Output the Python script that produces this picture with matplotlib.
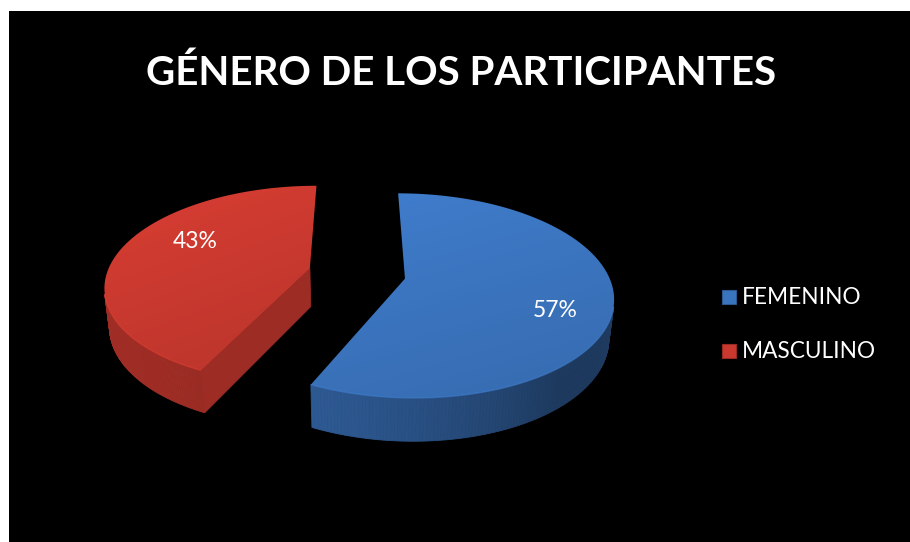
import numpy as np
import matplotlib
matplotlib.use("Agg")
import matplotlib.pyplot as plt
from matplotlib.patches import Polygon, Rectangle
from matplotlib.colors import to_rgb

# ---- data ----
title = "GÉNERO DE LOS PARTICIPANTES"
categories = ["FEMENINO", "MASCULINO"]
values = [57, 43]
labels = ["57%", "43%"]
base_colors = ["#3B74BE", "#C9392F"]

# ---- canvas ----
W, H = 910, 542
fig = plt.figure(figsize=(W / 100, H / 100), dpi=100, facecolor="white")
ax = fig.add_axes([0, 0, 1, 1])
ax.set_xlim(0, W)
ax.set_ylim(H, 0)
ax.axis("off")
ax.add_patch(Rectangle((9, 11), W - 9, H - 11, facecolor="black",
                       edgecolor="none", zorder=0))

FONT = ["Lato", "DejaVu Sans"]

# ---- 3D perspective projection ----
elev = np.deg2rad(28.8)
L = 5.33          # camera distance (in pie radii)
F = 1082.0        # focal scale (px)
cx, cy = 357.0, 273.5
ce, se = np.cos(elev), np.sin(elev)
cam = np.array([0.0, -L * ce, L * se])
thick = 0.22
explode = 0.24
label_r = [0.75, 0.68]
label_rot = [-11.5, -13.4]


def proj(X, Y, Z):
    X = np.asarray(X, float); Y = np.asarray(Y, float); Z = np.asarray(Z, float)
    depth = L + Y * ce - Z * se
    sx = X / depth
    sy = (Y * se + Z * ce) / depth
    return cx + F * sx, cy - F * sy


def shade(col, f):
    r, g, b = to_rgb(col)
    return (min(1, r * f), min(1, g * f), min(1, b * f))


light = np.array([-0.55, -0.45, 0.7])
light /= np.linalg.norm(light)

total = float(sum(values))
start = 90.0
label_pos = []
for i, (v, col) in enumerate(zip(values, base_colors)):
    sweep = 360.0 * v / total
    hi = start
    lo = start - sweep
    start = lo
    mid = np.deg2rad((lo + hi) / 2)
    ox, oy = explode * np.cos(mid), explode * np.sin(mid)
    t = np.deg2rad(np.linspace(lo, hi, 240))
    rx, ry = ox + np.cos(t), oy + np.sin(t)

    z = 5 + i
    # outer curved side
    vis_idx = []
    for j in range(len(t) - 1):
        tm = 0.5 * (t[j] + t[j + 1])
        n = np.array([np.cos(tm), np.sin(tm), 0.0])
        P = np.array([ox + np.cos(tm), oy + np.sin(tm), -thick / 2])
        if np.dot(cam - P, n) <= 0:
            continue
        vis_idx.append(j)
        xs_t, ys_t = proj(rx[j:j + 2], ry[j:j + 2], [0, 0])
        xs_b, ys_b = proj(rx[j:j + 2], ry[j:j + 2], [-thick, -thick])
        poly = np.column_stack([np.r_[xs_t, xs_b[::-1]], np.r_[ys_t, ys_b[::-1]]])
        lam = max(0.0, float(np.dot(n, light)))
        c = shade(col, 0.5 + 0.42 * lam)
        ax.add_patch(Polygon(poly, closed=True, facecolor=c, edgecolor=c,
                             linewidth=0.6, zorder=z))
    # radial walls (skip near edge-on slivers)
    for ang, nang in ((lo, lo - 90), (hi, hi + 90)):
        a = np.deg2rad(ang); na = np.deg2rad(nang)
        n = np.array([np.cos(na), np.sin(na), 0.0])
        P = np.array([ox + 0.5 * np.cos(a), oy + 0.5 * np.sin(a), -thick / 2])
        vv = cam - P
        if np.dot(vv, n) / np.linalg.norm(vv) <= 0.1:
            continue
        Xs = np.array([ox, ox + np.cos(a), ox + np.cos(a), ox])
        Ys = np.array([oy, oy + np.sin(a), oy + np.sin(a), oy])
        Zs = np.array([0, 0, -thick, -thick])
        px, py = proj(Xs, Ys, Zs)
        c = shade(col, 0.78)
        ax.add_patch(Polygon(np.column_stack([px, py]), closed=True,
                             facecolor=c, edgecolor=c, linewidth=0.6, zorder=z))
    # top face with gradient
    tx, ty = proj(np.r_[ox, rx], np.r_[oy, ry], np.zeros(len(rx) + 1))
    top = Polygon(np.column_stack([tx, ty]), closed=True, facecolor="none",
                  edgecolor="none", zorder=z + 0.5)
    ax.add_patch(top)
    x0, x1, y0, y1 = tx.min(), tx.max(), ty.min(), ty.max()
    gy, gx = np.mgrid[0:1:64j, 0:1:64j]
    g = 1.08 - 0.16 * (0.7 * gy + 0.3 * gx)
    rgb = np.array(to_rgb(col))
    img = np.clip(g[..., None] * rgb[None, None, :], 0, 1)
    im = ax.imshow(img, extent=(x0, x1, y1, y0), origin="upper",
                   interpolation="bilinear", zorder=z + 0.5, aspect="auto")
    im.set_clip_path(top)
    # subtle highlight on the visible front rim
    if vis_idx:
        k0, k1 = vis_idx[0], vis_idx[-1] + 2
        hx, hy = proj(rx[k0:k1], ry[k0:k1], np.zeros(k1 - k0))
        ax.plot(hx, hy, color=shade(col, 1.15), lw=1.0, alpha=0.5,
                zorder=z + 0.6, solid_capstyle="butt")
    # label position (on top face)
    la = mid + np.deg2rad(label_rot[i])
    lx, ly = proj(ox + label_r[i] * np.cos(la), oy + label_r[i] * np.sin(la), 0.0)
    label_pos.append((float(lx), float(ly)))

ax.set_xlim(0, W)
ax.set_ylim(H, 0)

for (lx, ly), lab in zip(label_pos, labels):
    ax.text(lx, ly, lab, color="white", fontsize=16.5, family=FONT,
            ha="center", va="center", zorder=20)

# ---- title ----
ax.text(461, 73, title, color="white", fontsize=29, fontweight="bold",
        family=FONT, ha="center", va="center", zorder=20)

# ---- legend ----
leg_y = [297, 351]
for cat, col, yy in zip(categories, base_colors, leg_y):
    ax.add_patch(Rectangle((722, yy - 7), 14, 14, facecolor=col,
                           edgecolor=shade(col, 0.75), linewidth=0.8, zorder=20))
    ax.text(742, yy, cat, color="white", fontsize=16.3, family=FONT,
            ha="left", va="center", zorder=20)

fig.savefig("out.png", dpi=100, facecolor="white")
